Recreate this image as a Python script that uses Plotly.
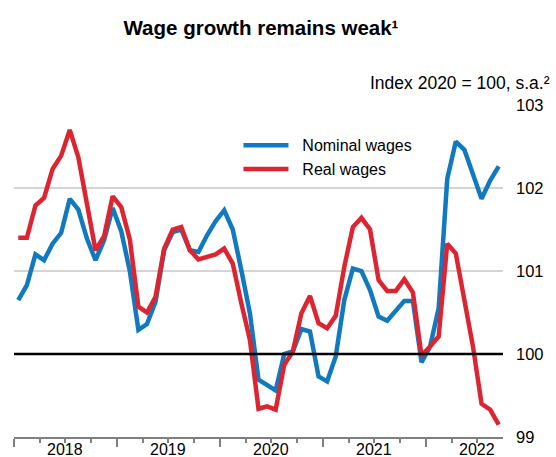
import plotly.graph_objects as go
import numpy as np

# Monthly data, Jan 2018 – Sep 2022 (index 2020 = 100, seasonally adjusted)
months = [f"{y}-{m:02d}" for y in range(2018, 2023) for m in range(1, 13)][:57]
nominal_wages = [100.65, 100.83, 101.20, 101.13, 101.33, 101.46, 101.87, 101.74, 101.39, 101.13, 101.37, 101.76,
                 101.48, 101.00, 100.29, 100.36, 100.63, 101.25, 101.47, 101.50, 101.25, 101.23, 101.43, 101.60,
                 101.73, 101.50, 101.01, 100.49, 99.69, 99.63, 99.56, 100.00, 100.03, 100.30, 100.27, 99.73,
                 99.67, 99.97, 100.65, 101.03, 101.00, 100.77, 100.45, 100.40, 100.53, 100.64, 100.64, 99.90,
                 100.09, 100.55, 102.11, 102.56, 102.46, 102.17, 101.87, 102.09, 102.26]
real_wages = [101.40, 101.40, 101.79, 101.88, 102.23, 102.39, 102.70, 102.37, 101.81, 101.25, 101.42, 101.90,
              101.77, 101.38, 100.57, 100.50, 100.69, 101.27, 101.50, 101.53, 101.25, 101.14, 101.17, 101.20,
              101.27, 101.09, 100.61, 100.17, 99.34, 99.37, 99.33, 99.87, 100.03, 100.49, 100.70, 100.37,
              100.31, 100.46, 101.05, 101.53, 101.64, 101.50, 100.89, 100.76, 100.76, 100.90, 100.74, 99.98,
              100.09, 100.21, 101.33, 101.21, 100.65, 100.09, 99.40, 99.33, 99.15]
year_labels = ["2018", "2019", "2020", "2021", "2022"]
y_ticks = [99, 100, 101, 102, 103]

# position of each month at mid-month on a month-count axis
xpos = np.arange(len(months)) + 0.5

FONT = "Arial, Liberation Sans, sans-serif"
BLUE = "#1079bf"
RED = "#dc2530"
NB = "\u00a0\u00a0"

fig = go.Figure()
fig.add_trace(go.Scatter(x=xpos, y=nominal_wages, mode="lines", name=NB + "Nominal wages",
                         line=dict(color=BLUE, width=4.5), customdata=months))
fig.add_trace(go.Scatter(x=xpos, y=real_wages, mode="lines", name=NB + "Real wages",
                         line=dict(color=RED, width=4.5), customdata=months))

fig.add_hline(y=100, line=dict(color="black", width=2.5), layer="above")

year_starts = [12 * i for i in range(len(year_labels))]
quarter_ticks = [q for q in range(3, 57, 3) if q % 12 != 0]
year_mids = [12 * i + 6 for i in range(len(year_labels))]

annotations = [dict(text="Index 2020 = 100, s.a.²", xref="paper", yref="paper",
                    x=(551.5 - 14) / 489, y=(437 - 83) / 332, xanchor="right", yanchor="middle",
                    showarrow=False, font=dict(size=17.5, family=FONT))]
for xm, lab in zip(year_mids, year_labels):
    annotations.append(dict(text=lab, x=xm, xref="x", y=0, yref="paper", yanchor="middle",
                            xanchor="center", yshift=-12.5, showarrow=False,
                            font=dict(size=16, family=FONT)))

fig.update_layout(
    width=556, height=457,
    margin=dict(l=14, r=53, t=105, b=20),
    paper_bgcolor="white", plot_bgcolor="white",
    font=dict(family=FONT, color="black"),
    title=dict(text="<b>Wage growth remains weak¹</b>", x=(261 - 14) / 489, xref="paper", xanchor="center",
               y=1 - 28 / 457, yanchor="middle", yref="container",
               font=dict(size=20.5, family=FONT, color="black")),
    showlegend=True,
    legend=dict(x=0.459, y=0.93, xanchor="left", yanchor="top",
                bgcolor="rgba(0,0,0,0)", font=dict(size=16, family=FONT),
                itemwidth=45, tracegroupgap=4),
    xaxis=dict(range=[0, 57], tickmode="array", tickvals=year_starts, ticks="outside",
               ticklen=8, tickwidth=1.5, tickcolor="#808080", showticklabels=False,
               showgrid=False, zeroline=False, showline=True, linecolor="#808080", linewidth=1.5,
               minor=dict(tickmode="array", tickvals=quarter_ticks, ticks="outside",
                          ticklen=4, tickwidth=1.5, tickcolor="#808080")),
    yaxis=dict(range=[99, 103], side="right", tickmode="array", tickvals=y_ticks,
               showgrid=True, gridcolor="#d4d4d4", gridwidth=1.5, zeroline=False,
               ticks="", ticklabelstandoff=12, tickfont=dict(size=16.5, family=FONT)),
    annotations=annotations,
)

fig.write_html("out.html")
